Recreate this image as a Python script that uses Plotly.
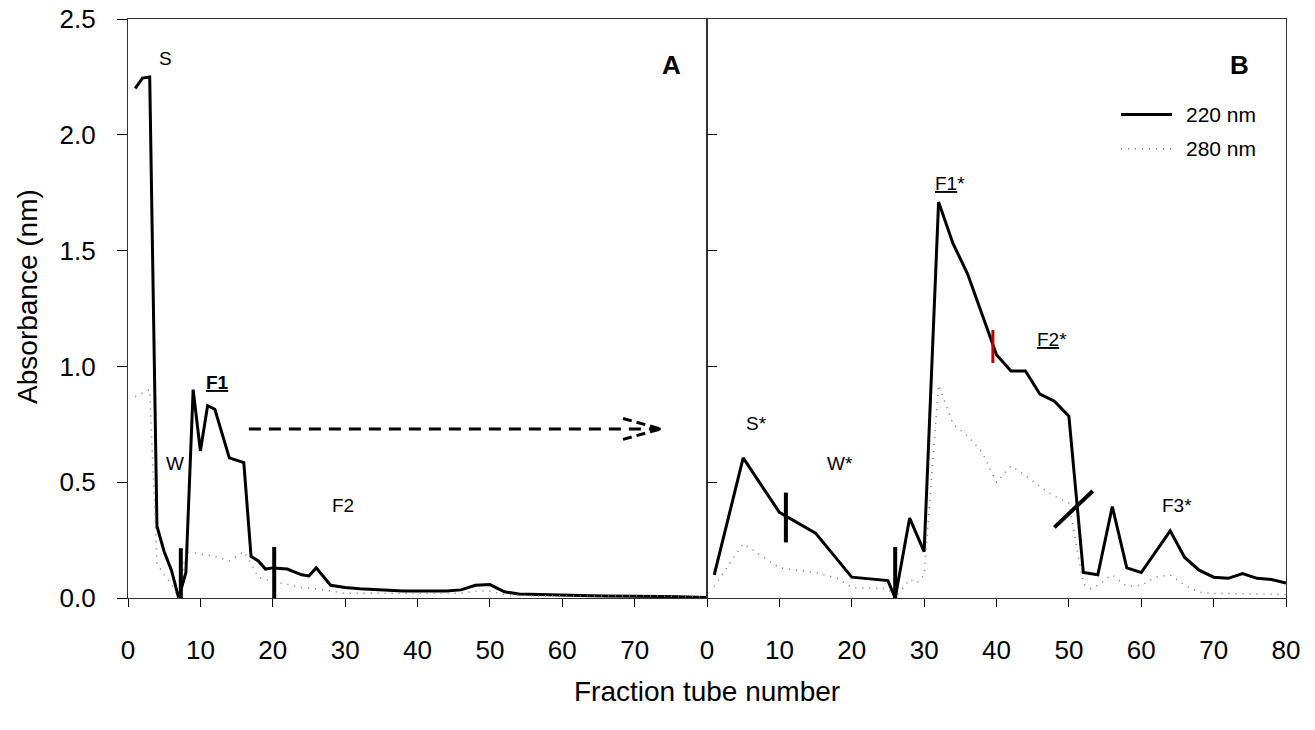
import plotly.graph_objects as go

# ---------------- data ----------------
# Panel A (220 nm)
a220_x = [1, 2, 3, 4, 5, 6, 7, 8, 9, 10, 11, 12, 14, 16, 17, 18, 19, 20, 22, 24, 25, 26, 28, 30,
          32, 34, 36, 38, 40, 42, 44, 46, 48, 50, 52, 54, 56, 58, 60, 62, 64, 66, 68, 70, 72, 74, 76, 78, 80]
a220_y = [2.20, 2.245, 2.25, 0.31, 0.20, 0.12, 0.0, 0.11, 0.90, 0.635, 0.83, 0.815, 0.605, 0.585, 0.18, 0.16,
          0.125, 0.13, 0.125, 0.10, 0.095, 0.13, 0.055, 0.045, 0.04, 0.035, 0.033, 0.03, 0.03, 0.032, 0.03,
          0.035, 0.055, 0.058, 0.027, 0.017, 0.015, 0.013, 0.012, 0.011, 0.01, 0.009, 0.009, 0.009, 0.008,
          0.007, 0.005, 0.004, 0.002]
# Panel A (280 nm)
a280_x = [1, 3, 4, 5, 6, 7, 8, 10, 12, 14, 16, 17, 18, 20, 22, 24, 26, 28, 30, 34, 40, 46, 48, 50, 52,
          56, 60, 70, 80]
a280_y = [0.87, 0.90, 0.15, 0.10, 0.06, 0.0, 0.20, 0.19, 0.18, 0.16, 0.20, 0.15, 0.09, 0.07, 0.06, 0.045,
          0.04, 0.03, 0.02, 0.02, 0.02, 0.02, 0.03, 0.03, 0.015, 0.01, 0.01, 0.01, 0.005]
# Panel B (220 nm)
b220_x = [1, 5, 10, 15, 20, 25, 26, 28, 30, 32, 34, 36, 40, 42, 44, 46, 48, 50, 52, 54, 56, 58, 60,
          64, 66, 68, 70, 72, 74, 76, 78, 80]
b220_y = [0.10, 0.605, 0.37, 0.28, 0.09, 0.075, 0.0, 0.345, 0.20, 1.71, 1.53, 1.40, 1.05, 0.98, 0.98,
          0.88, 0.85, 0.785, 0.11, 0.10, 0.395, 0.13, 0.11, 0.29, 0.175, 0.12, 0.09, 0.085, 0.105, 0.085,
          0.08, 0.065]
# Panel B (280 nm)
b280_x = [1, 5, 10, 15, 18, 20, 25, 26, 28, 29, 30, 32, 34, 36, 38, 40, 42, 44, 46, 48, 50, 52, 53,
          54, 56, 58, 60, 62, 64, 66, 68, 70, 80]
b280_y = [0.05, 0.235, 0.13, 0.11, 0.085, 0.045, 0.04, 0.0, 0.08, 0.065, 0.10, 0.92, 0.75, 0.70, 0.63,
          0.50, 0.57, 0.53, 0.48, 0.44, 0.41, 0.06, 0.04, 0.055, 0.10, 0.05, 0.055, 0.09, 0.10, 0.055,
          0.025, 0.02, 0.015]

x_ticks_a = [0, 10, 20, 30, 40, 50, 60, 70]
x_ticks_b = [0, 10, 20, 30, 40, 50, 60, 70, 80]
y_ticks = [0.0, 0.5, 1.0, 1.5, 2.0, 2.5]
series_names = ["220 nm", "280 nm"]

# fraction-cut markers: (panel, x0, y0, x1, y1, colour)
cut_marks = [
    ("A", 7.3, 0.0, 7.3, 0.215, "black"),
    ("A", 20.2, 0.0, 20.2, 0.22, "black"),
    ("B", 10.9, 0.24, 10.9, 0.455, "black"),
    ("B", 26.0, 0.0, 26.0, 0.22, "black"),
    ("B", 39.5, 1.015, 39.5, 1.157, "#c00000"),
    ("B", 48.0, 0.305, 53.3, 0.462, "black"),
]
# labels: (panel, x, y, text)
labels = [
    ("A", 5.2, 2.33, "S"),
    ("A", 6.5, 0.58, "W"),
    ("A", 12.4, 0.93, "<b><u>F1</u></b>"),
    ("A", 29.7, 0.40, "F2"),
    ("B", 6.8, 0.755, "S*"),
    ("B", 18.4, 0.58, "W*"),
    ("B", 33.6, 1.79, "<u>F1</u>*"),
    ("B", 47.6, 1.115, "<u>F2</u>*"),
    ("B", 64.9, 0.40, "F3*"),
]
# dashed arrow in panel A
arrow_x = [16.7, 73.6]
arrow_y = [0.73, 0.73]
arrow_head_back_x = 68.4
arrow_head_dy = 0.045

FONT = "Liberation Sans, Arial, sans-serif"
DOT = dict(color="#777777", width=1.5, dash="1px,6px")
SOLID = dict(color="black", width=3)

fig = go.Figure()
fig.add_trace(go.Scatter(x=a220_x, y=a220_y, mode="lines", line=SOLID, xaxis="x", yaxis="y",
                         showlegend=False))
fig.add_trace(go.Scatter(x=a280_x, y=a280_y, mode="lines", line=DOT, xaxis="x", yaxis="y",
                         showlegend=False))
fig.add_trace(go.Scatter(x=b220_x, y=b220_y, mode="lines", line=SOLID, xaxis="x2", yaxis="y2",
                         name=series_names[0], showlegend=False))
fig.add_trace(go.Scatter(x=b280_x, y=b280_y, mode="lines", line=DOT, xaxis="x2", yaxis="y2",
                         name=series_names[1], showlegend=False))

refs = {"A": ("x", "y"), "B": ("x2", "y2")}
shapes = []
for p, x0, y0, x1, y1, c in cut_marks:
    xr, yr = refs[p]
    shapes.append(dict(type="line", xref=xr, yref=yr, x0=x0, y0=y0, x1=x1, y1=y1,
                       line=dict(color=c, width=4 if c == "black" else 3)))
# arrow shaft + head
shapes.append(dict(type="line", xref="x", yref="y", x0=arrow_x[0], y0=arrow_y[0], x1=arrow_x[1], y1=arrow_y[1],
                   line=dict(color="black", width=3, dash="12px,8px")))
for s in (1, -1):
    shapes.append(dict(type="line", xref="x", yref="y", x0=arrow_head_back_x, y0=arrow_y[1] + s * arrow_head_dy,
                       x1=arrow_x[1], y1=arrow_y[1], line=dict(color="black", width=3, dash="9px,5px")))

# manual legend (paper coordinates)
leg_x0, leg_x1, leg_tx = 0.8575, 0.9016, 0.912
leg_rows = [0.835, 0.776]
shapes.append(dict(type="line", xref="paper", yref="paper", x0=leg_x0, x1=leg_x1, y0=leg_rows[0], y1=leg_rows[0],
                   line=SOLID))
shapes.append(dict(type="line", xref="paper", yref="paper", x0=leg_x0, x1=leg_x1, y0=leg_rows[1], y1=leg_rows[1],
                   line=DOT))

annotations = []
for p, x, y, t in labels:
    xr, yr = refs[p]
    annotations.append(dict(x=x, y=y, xref=xr, yref=yr, text=t, showarrow=False,
                            font=dict(family=FONT, size=19, color="black")))
for name, yy in zip(series_names, leg_rows):
    annotations.append(dict(x=leg_tx, y=yy, xref="paper", yref="paper", text=name, showarrow=False,
                            xanchor="left", yanchor="middle", font=dict(family=FONT, size=21, color="black")))
annotations.append(dict(x=0.4694, y=0.950, xref="paper", yref="paper", text="<b>A</b>", showarrow=False,
                        font=dict(family=FONT, size=26, color="black")))
annotations.append(dict(x=0.970, y=0.950, xref="paper", yref="paper", text="<b>B</b>", showarrow=False,
                        font=dict(family=FONT, size=26, color="black")))
annotations.append(dict(x=0.5, y=-0.162, xref="paper", yref="paper", yanchor="middle",
                        text="Fraction tube number", showarrow=False,
                        font=dict(family=FONT, size=28, color="black")))
annotations.append(dict(x=-0.0864, y=0.5216, xref="paper", yref="paper", xanchor="center", yanchor="middle",
                        textangle=-90, text="Absorbance (nm)", showarrow=False,
                        font=dict(family=FONT, size=28, color="black")))

axis_common = dict(showline=True, linecolor="#333", linewidth=1.2, mirror=True, showgrid=False, zeroline=False,
                   automargin=False, tickfont=dict(family=FONT, size=26, color="black"))
fig.update_layout(
    width=1315, height=730,
    margin=dict(l=128, r=29, t=19, b=132),
    plot_bgcolor="white", paper_bgcolor="white",
    showlegend=False,
    xaxis=dict(domain=[0, 0.5], range=[0, 80], tickvals=x_ticks_a, ticks="outside", ticklen=8,
               tickcolor="black", ticklabelstandoff=21, **axis_common),
    xaxis2=dict(domain=[0.5, 1], range=[0, 80], tickvals=x_ticks_b, ticks="outside", ticklen=8,
                tickcolor="black", ticklabelstandoff=21, anchor="y2", **axis_common),
    yaxis=dict(range=[0, 2.5], tickvals=y_ticks, tickformat=".1f", ticks="outside", ticklen=10,
               tickcolor="black", ticklabelstandoff=16, anchor="x", **axis_common),
    yaxis2=dict(range=[0, 2.5], tickvals=y_ticks, ticks="inside", ticklen=10, tickcolor="black",
                showticklabels=False, anchor="x2", **axis_common),
    shapes=shapes,
    annotations=annotations,
)

fig.write_html("out.html", config={"displayModeBar": False},
               post_script="document.body.style.margin='0';")
